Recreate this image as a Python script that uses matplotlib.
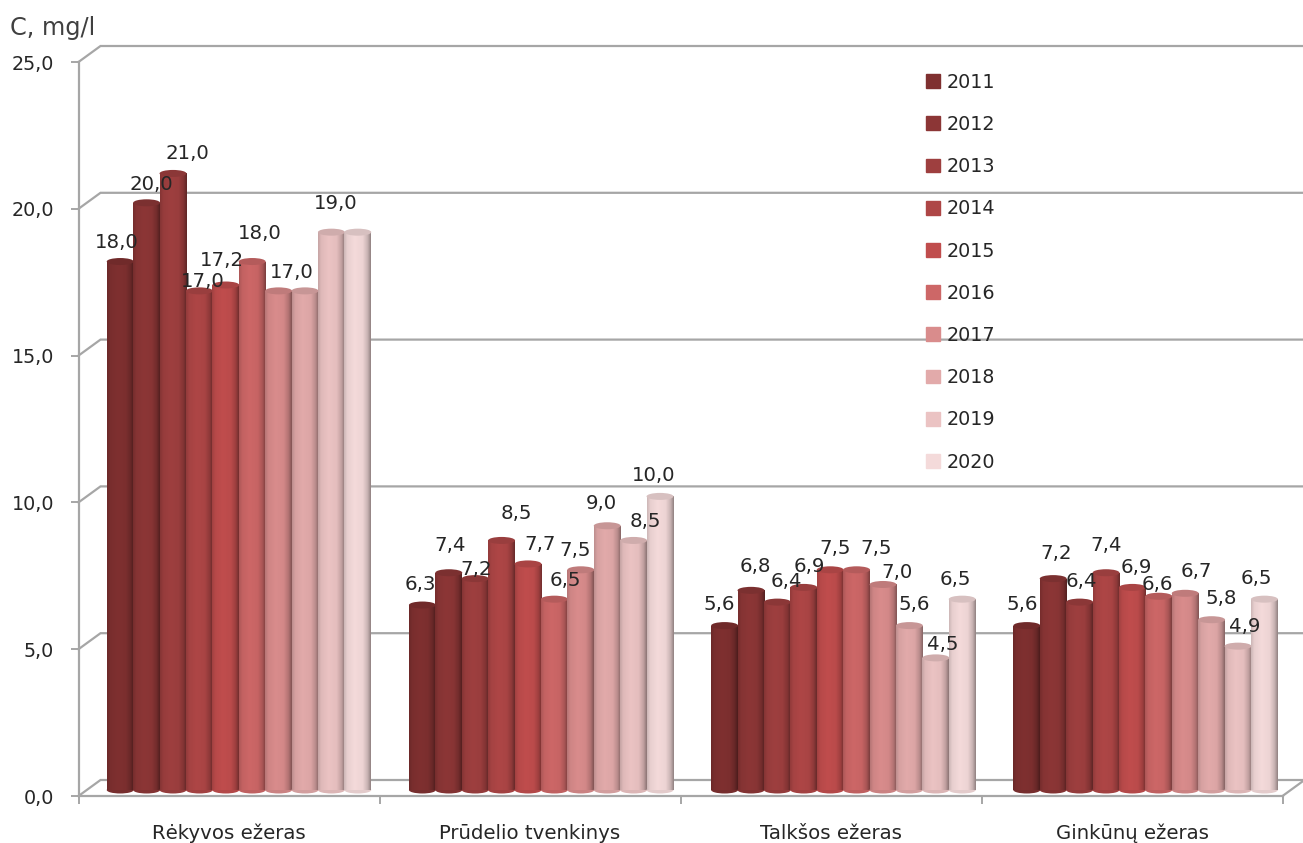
import numpy as np
import matplotlib
matplotlib.use("Agg")
import matplotlib.pyplot as plt
from matplotlib.patches import Ellipse, Patch
from matplotlib.ticker import FuncFormatter

lakes = ["Rėkyvos ežeras", "Prūdelio tvenkinys", "Talkšos ežeras", "Ginkūnų ežeras"]
years = [2011, 2012, 2013, 2014, 2015, 2016, 2017, 2018, 2019, 2020]

rekyvos = [18.0, 20.0, 21.0, 17.0, 17.2, 18.0, 17.0, 17.0, 19.0, 19.0]
prudelio = [6.3, 7.4, 7.2, 8.5, 7.7, 6.5, 7.5, 9.0, 8.5, 10.0]
talksos = [5.6, 6.8, 6.4, 6.9, 7.5, 7.5, 7.0, 5.6, 4.5, 6.5]
ginkunu = [5.6, 7.2, 6.4, 7.4, 6.9, 6.6, 6.7, 5.8, 4.9, 6.5]
series = [rekyvos, prudelio, talksos, ginkunu]

colors = ["#7f3030", "#8c3636", "#9e3f3f", "#ae4646", "#c04d4d",
          "#cd6767", "#d98c8c", "#e2aaaa", "#ebc3c3", "#f4dada"]

# label shifts from the top of each bar, in pixels (None = no label)
label_shift = [
    [(-3, 19), (5, 18), (14, 20), (3, 9), (-4, 25), (8, 28), (13, 18), None, (4, 29), None],
    [(-2, 21), (1, 27), (1, 9), (15, 27), (12, 19), (11, 19), (-6, 19), (-6, 22), (12, 19), (-6, 21)],
    [(-5, 21), (4, 24), (9, 21), (6, 21), (5, 21), (20, 21), (14, 12), (5, 21), (7, 13), (-7, 20)],
    [(-5, 21), (3, 25), (2, 21), (0, 27), (4, 20), (-1, 12), (11, 22), (10, 21), (7, 20), (-8, 21)],
]

GRID = "#a6a6a6"
TEXT = "#262626"
px = 72 / 100  # points per pixel

fig = plt.figure(figsize=(13.03, 8.43), dpi=100)
ax = fig.add_axes([78.5 / 1303, 47 / 843, 1204 / 1303, 734 / 843])
ax.set_xlim(0, 4)
ax.set_ylim(0, 25)

# depth of the fake 3D box in data units
depth_x = 22 / 301
depth_y = 16 / 29.36
bar_w = 26.4 / 301
bar_lift = 6 / 29.36
ell_h = 7 / 29.36
group_step = 302.2 / 301
group_start = 0.5 + depth_x / 2 - 1 / 301


def bar_center(g, j):
    return group_start + g * group_step + (j - 4.5) * bar_w


# back wall and the slanted lines going to it
for v in np.arange(0, 26, 5):
    ax.plot([0, depth_x, 4.1], [v, v + depth_y, v + depth_y], color=GRID, lw=1.6,
            clip_on=False, zorder=1, solid_joinstyle="miter")
ax.plot([4, 4 + depth_x], [0, depth_y], color=GRID, lw=1.6, clip_on=False, zorder=1)

# left to right shading of a cylinder
pos = [0, 0.12, 0.4, 0.7, 0.88, 1]
shade = [0.84, 0.95, 1.0, 0.97, 0.82, 0.6]
xs = np.linspace(0, 1, 64)
profile = np.interp(xs, pos, shade)

z = 3
for g, values in enumerate(series):
    for j, v in enumerate(values):
        xc = bar_center(g, j)
        base = np.array(matplotlib.colors.to_rgb(colors[j]))
        bar = ax.bar(xc, v, width=bar_w * 1.02, bottom=bar_lift, color=colors[j], zorder=z)[0]
        img = np.clip(profile[None, :, None] * base[None, None, :], 0, 1)
        im = ax.imshow(img, extent=(xc - bar_w * 0.51, xc + bar_w * 0.51, bar_lift, v + bar_lift),
                       aspect="auto", zorder=z + 0.1, interpolation="bilinear")
        im.set_clip_path(bar)
        # bottom and top caps
        ax.add_patch(Ellipse((xc, bar_lift), bar_w * 1.02, ell_h,
                             color=base * 0.93, lw=0, zorder=z - 0.1))
        ax.add_patch(Ellipse((xc, v + bar_lift), bar_w * 1.02, ell_h,
                             color=base * 0.88, lw=0, zorder=z + 0.2))
        z += 1
ax.set_xlim(0, 4)
ax.set_ylim(0, 25)

# value labels go above all the bars
for g, values in enumerate(series):
    for j, v in enumerate(values):
        if label_shift[g][j] is None:
            continue
        dx, dy = label_shift[g][j]
        ax.annotate(f"{v:.1f}".replace(".", ","), (bar_center(g, j), v + bar_lift),
                    xytext=(dx * px, dy * px), textcoords="offset points",
                    ha="center", va="center", fontsize=14.2, color=TEXT, zorder=100)

for side in ["top", "right"]:
    ax.spines[side].set_visible(False)
for side in ["left", "bottom"]:
    ax.spines[side].set_color(GRID)
    ax.spines[side].set_linewidth(1.6)
    ax.spines[side].set_zorder(2)

ax.set_yticks(np.arange(0, 26, 5))
ax.yaxis.set_major_formatter(FuncFormatter(lambda v, _: f"{v:.1f}".replace(".", ",")))
ax.tick_params(axis="y", length=6, width=1.4, color=GRID, labelsize=13.8, labelcolor=TEXT, pad=11.5)
ax.set_xticks(range(5))
ax.set_xticklabels([])
ax.tick_params(axis="x", which="major", length=6, width=1.4, color=GRID)
ax.set_xticks(np.arange(4) + 0.5, minor=True)
ax.set_xticklabels(lakes, minor=True, fontsize=14.2, color=TEXT)
ax.tick_params(axis="x", which="minor", length=0, pad=20)

fig.text(10 / 1303, 1 - 28 / 843, "C, mg/l", fontsize=17.3, color="#404040", ha="left", va="center")

handles = [Patch(color=c, label=str(y)) for c, y in zip(colors, years)]
ax.legend(handles=handles, frameon=False, loc="upper left",
          bbox_to_anchor=(922 / 1303, 1 - 69 / 843), bbox_transform=fig.transFigure,
          fontsize=13.8, labelspacing=1.21, handlelength=0.72, handleheight=0.72,
          handletextpad=0.38, labelcolor=TEXT, borderpad=0.2, borderaxespad=0)

fig.savefig("out.png", dpi=100)
